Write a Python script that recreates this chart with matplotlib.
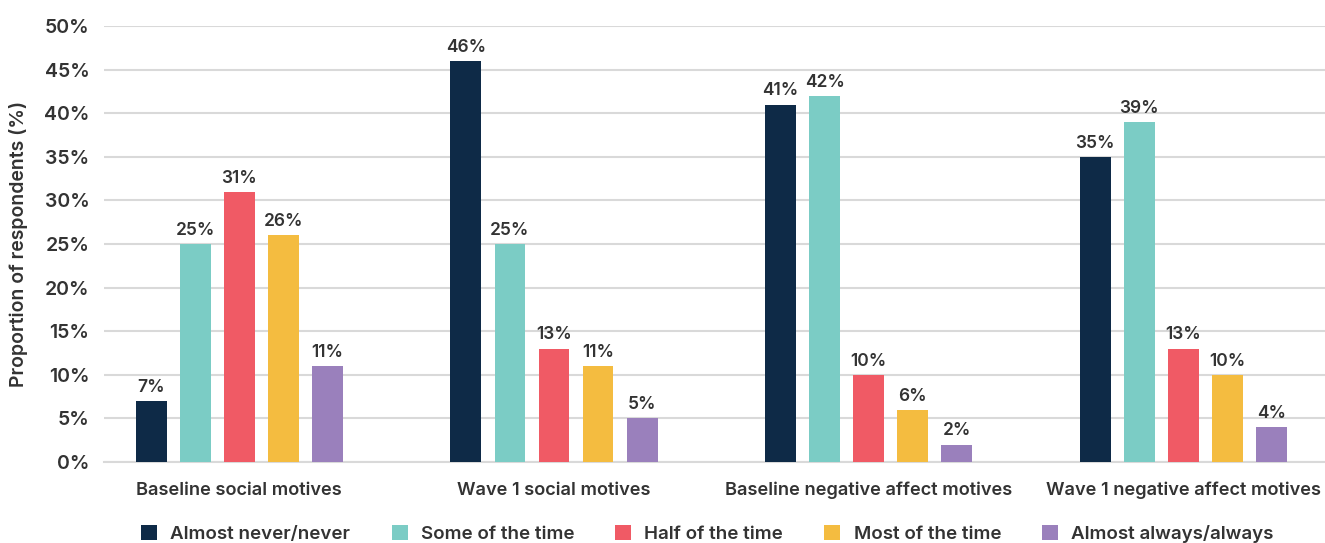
import numpy as np
import matplotlib.pyplot as plt

plt.rcParams['font.family'] = 'Inter'
plt.rcParams['font.weight'] = 'semibold'

groups = ['Baseline social motives', 'Wave 1 social motives',
          'Baseline negative affect motives', 'Wave 1 negative affect motives']
series = ['Almost never/never', 'Some of the time', 'Half of the time',
          'Most of the time', 'Almost always/always']
values = [
    [7, 46, 41, 35],
    [25, 25, 42, 39],
    [31, 13, 10, 13],
    [26, 11, 6, 10],
    [11, 5, 2, 4],
]
colors = ['#0E2A47', '#7BCCC5', '#F05A65', '#F4BC40', '#9A80BC']
text_col = '#333333'

fig = plt.figure(figsize=(13.25, 5.43), dpi=100)
ax = fig.add_axes([0.0785, 0.149, 0.9215, 0.803])

x = np.arange(len(groups))
step = 0.14
width = 0.098
for i, (name, vals) in enumerate(zip(series, values)):
    pos = x + (i - 2) * step
    bars = ax.bar(pos, vals, width, color=colors[i], label=name, zorder=3)
    for b, v in zip(bars, vals):
        ax.text(b.get_x() + b.get_width() / 2, v + 0.6, '%d%%' % v,
                ha='center', va='bottom', fontsize=12.5, fontweight='semibold',
                color=text_col)

ax.set_ylim(0, 50)
ax.set_xlim(-0.43, 3.45)
ax.set_yticks(np.arange(0, 51, 5))
ax.set_yticklabels(['%d%%' % t for t in range(0, 51, 5)])
ax.set_xticks(x)
ax.set_xticklabels(groups)
ax.tick_params(axis='y', length=0, pad=10.5, labelsize=14, labelcolor=text_col)
ax.tick_params(axis='x', length=0, pad=14, labelsize=13.1, labelcolor=text_col)
for lab in ax.get_yticklabels() + ax.get_xticklabels():
    lab.set_fontweight('semibold')

ax.yaxis.grid(True, color='#d9d9d9', linewidth=1.5, zorder=0)
for s in ['top', 'right', 'left']:
    ax.spines[s].set_visible(False)
ax.spines['bottom'].set_color('#d9d9d9')
ax.spines['bottom'].set_linewidth(1.5)

ax.set_ylabel('Proportion of respondents (%)', fontsize=14, fontweight='semibold',
              color=text_col)
ax.yaxis.set_label_coords(-0.062, 0.5)

leg = fig.legend(loc='center', bbox_to_anchor=(0.534, 0.017), ncol=5, frameon=False,
                 handlelength=0.85, handleheight=0.85, handletextpad=0.7,
                 columnspacing=2.2, prop={'weight': 'semibold', 'size': 13.5})
for t in leg.get_texts():
    t.set_color(text_col)

fig.savefig('out.png', dpi=100)
